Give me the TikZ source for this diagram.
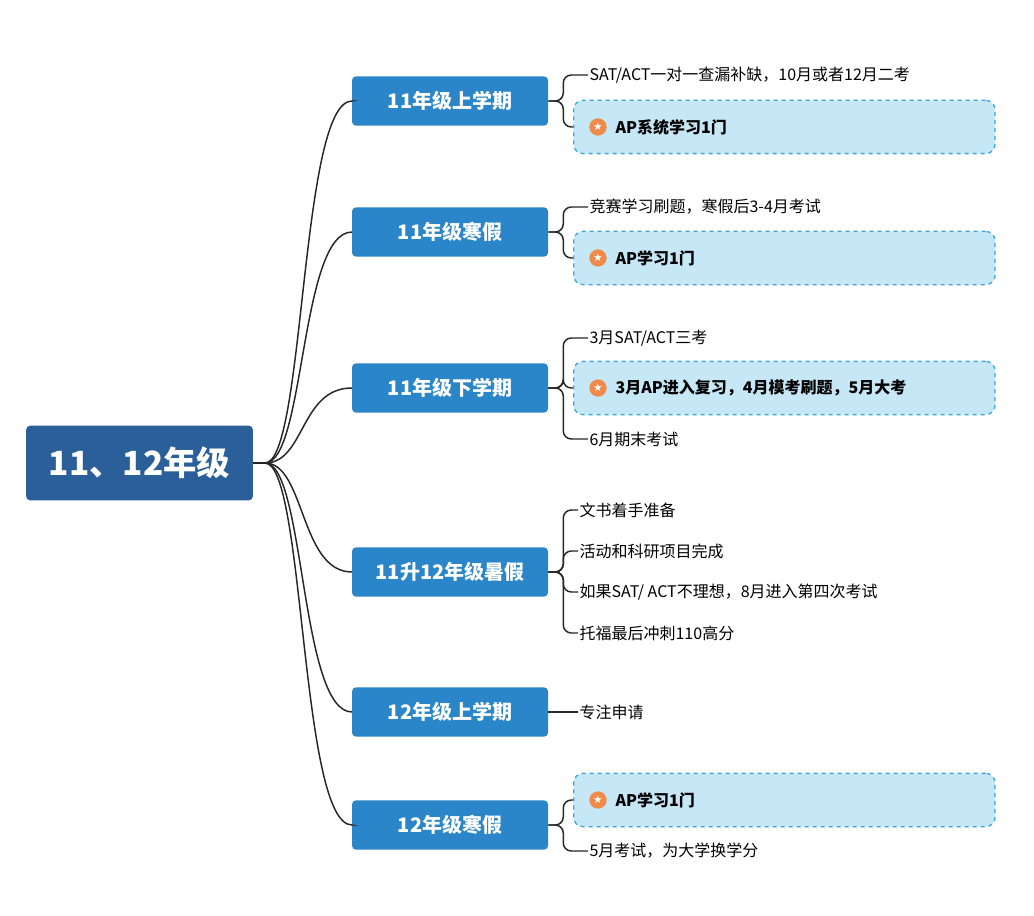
\documentclass[tikz,border=0pt]{standalone}
\usepackage{fontspec}
\setmainfont{Noto Sans CJK SC}
\newfontfamily\symfont{DejaVu Sans}
\usepackage{xcolor}
\definecolor{rootblue}{HTML}{2A5F9A}
\definecolor{branchblue}{HTML}{2A86C8}
\definecolor{boxfill}{HTML}{C6E7F6}
\definecolor{boxline}{HTML}{3AA6E0}
\definecolor{starorange}{HTML}{F08A4B}
\usetikzlibrary{positioning}

\tikzset{
  rootbox/.style={fill=rootblue, rounded corners=3pt, text=white, font=\bfseries\fontsize{25}{28}\selectfont,
    minimum width=170pt, minimum height=56pt},
  branchbox/.style={fill=branchblue, rounded corners=3pt, text=white, font=\bfseries\fontsize{15}{18}\selectfont,
    minimum width=147pt, minimum height=37pt},
  leaf/.style={anchor=west, font=\fontsize{12}{14}\selectfont, inner sep=1pt},
  hileaf/.style={anchor=west, font=\bfseries\fontsize{12}{14}\selectfont, inner sep=1pt},
  hibox/.style={anchor=west, draw=boxline, fill=boxfill, dashed, line width=1pt, rounded corners=7pt,
    minimum width=316pt, minimum height=40pt},
  staricon/.style={circle, fill=starorange, text=white, inner sep=0pt, minimum size=13pt,
    font=\symfont\fontsize{8}{8}\selectfont},
  conn/.style={line width=1.1pt, black!85},
}

\begin{document}
\begin{tikzpicture}[x=0.75pt, y=-0.75pt]
  \useasboundingbox (0,0) rectangle (1034,916);
  % root and branches
  \node[rootbox] (root) at (139.5,463) {11、12年级};
  \coordinate (hub) at (265,463);
  \foreach \name/\y/\txt in {b1/101/11年级上学期, b2/232/11年级寒假, b3/388/11年级下学期,
                             b4/572/11升12年级暑假, b5/712/12年级上学期, b6/825/12年级寒假} {
    \node[branchbox] (\name) at (450,\y) {\txt};
    \draw[conn] (hub) .. controls (305,463) and (300,\y) .. (352,\y) -- (\name.west);
  }
  \draw[conn] (root.east) -- (hub);

  % highlighted boxes
  \foreach \name/\y/\txt in {h1/127/AP系统学习1门, h2/258/AP学习1门,
                             h3/388/3月AP进入复习，4月模考刷题，5月大考, h6/800/AP学习1门} {
    \node[hibox] (\name) at (573,\y) {};
    \node[staricon] (\name s) at (598,\y) {★};
    \node[hileaf] (\name t) at (614,\y) {\txt};
  }

  % plain leaves
  \node[leaf] (l1) at (588,75) {SAT/ACT一对一查漏补缺，10月或者12月二考};
  \node[leaf] (l2) at (588,207) {竞赛学习刷题，寒假后3-4月考试};
  \node[leaf] (l3a) at (588,338) {3月SAT/ACT三考};
  \node[leaf] (l3b) at (588,439) {6月期末考试};
  \node[leaf] (l4a) at (578,510) {文书着手准备};
  \node[leaf] (l4b) at (578,551) {活动和科研项目完成};
  \node[leaf] (l4c) at (578,592) {如果SAT/ ACT不理想，8月进入第四次考试};
  \node[leaf] (l4d) at (578,633) {托福最后冲刺110高分};
  \node[leaf] (l5) at (578,712) {专注申请};
  \node[leaf] (l6) at (588,851) {5月考试，为大学换学分};

  % brackets
  \foreach \b/\l in {b1/l1, b1/h1, b2/l2, b2/h2, b3/l3a, b3/h3, b3/l3b,
                     b4/l4a, b4/l4b, b4/l4c, b4/l4d, b6/h6, b6/l6} {
    \draw[conn, rounded corners=6pt] (\b.east) -- ++(15,0) |- (\l.west);
  }
  \draw[conn] (b5.east) -- (l5.west);
\end{tikzpicture}
\end{document}
